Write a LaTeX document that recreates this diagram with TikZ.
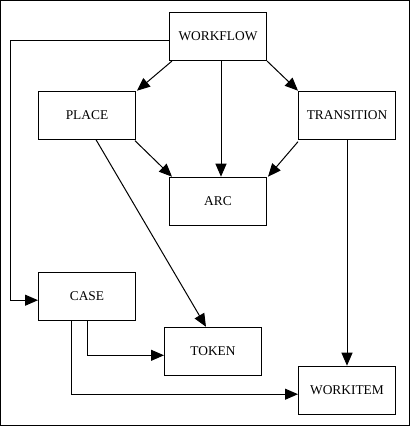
\documentclass[tikz,border=0pt]{standalone}
\usepackage{fontspec}
\setmainfont{Liberation Serif}
\usetikzlibrary{arrows.meta}
\begin{document}
\begin{tikzpicture}[x=1pt,y=-1pt,
  box/.style={draw,line width=1pt,minimum width=97pt,minimum height=48pt,inner sep=0pt,font=\fontsize{13.4}{16}\selectfont},
  arr/.style={line width=1pt,-{Triangle[length=13pt,width=11pt]}}]
\useasboundingbox (0,0) rectangle (410,426);
\draw[line width=1pt] (0.5,0.5) rectangle (409.5,425.5);
\node[box] (WORKFLOW) at (218,36.5) {WORKFLOW};
\node[box] (PLACE) at (87,115.2) {PLACE};
\node[box] (TRANSITION) at (347,115.2) {TRANSITION};
\node[box] (ARC) at (218,201.2) {ARC};
\node[box] (CASE) at (87,296.2) {CASE};
\node[box] (TOKEN) at (213,351.3) {TOKEN};
\node[box] (WORKITEM) at (347,390.2) {WORKITEM};
\draw[arr] ([xshift=3pt]WORKFLOW.south west) -- ([xshift=1pt]PLACE.north east);
\draw[arr] (WORKFLOW.south east) -- (TRANSITION.north west);
\draw[arr] ([xshift=3pt]WORKFLOW.south) -- ([xshift=3pt]ARC.north);
\draw[arr] ([xshift=-1pt,yshift=-1pt]PLACE.south east) -- ([xshift=3pt]ARC.north west);
\draw[arr] ([yshift=-2pt]TRANSITION.south west) -- ([xshift=1pt]ARC.north east);
\draw[arr] ([xshift=9pt]PLACE.south) -- ([xshift=-7pt]TOKEN.north);
\draw[arr] (TRANSITION.south) -- (WORKITEM.north);
\draw[arr] ([yshift=-4pt]WORKFLOW.west) -- ++(-158.3,0) |- ([yshift=-4pt]CASE.west);
\draw[arr] (CASE.south) |- ([yshift=-4pt]TOKEN.west);
\draw[arr] ([xshift=-15.7pt]CASE.south) |- ([yshift=-4pt]WORKITEM.west);
\end{tikzpicture}
\end{document}
